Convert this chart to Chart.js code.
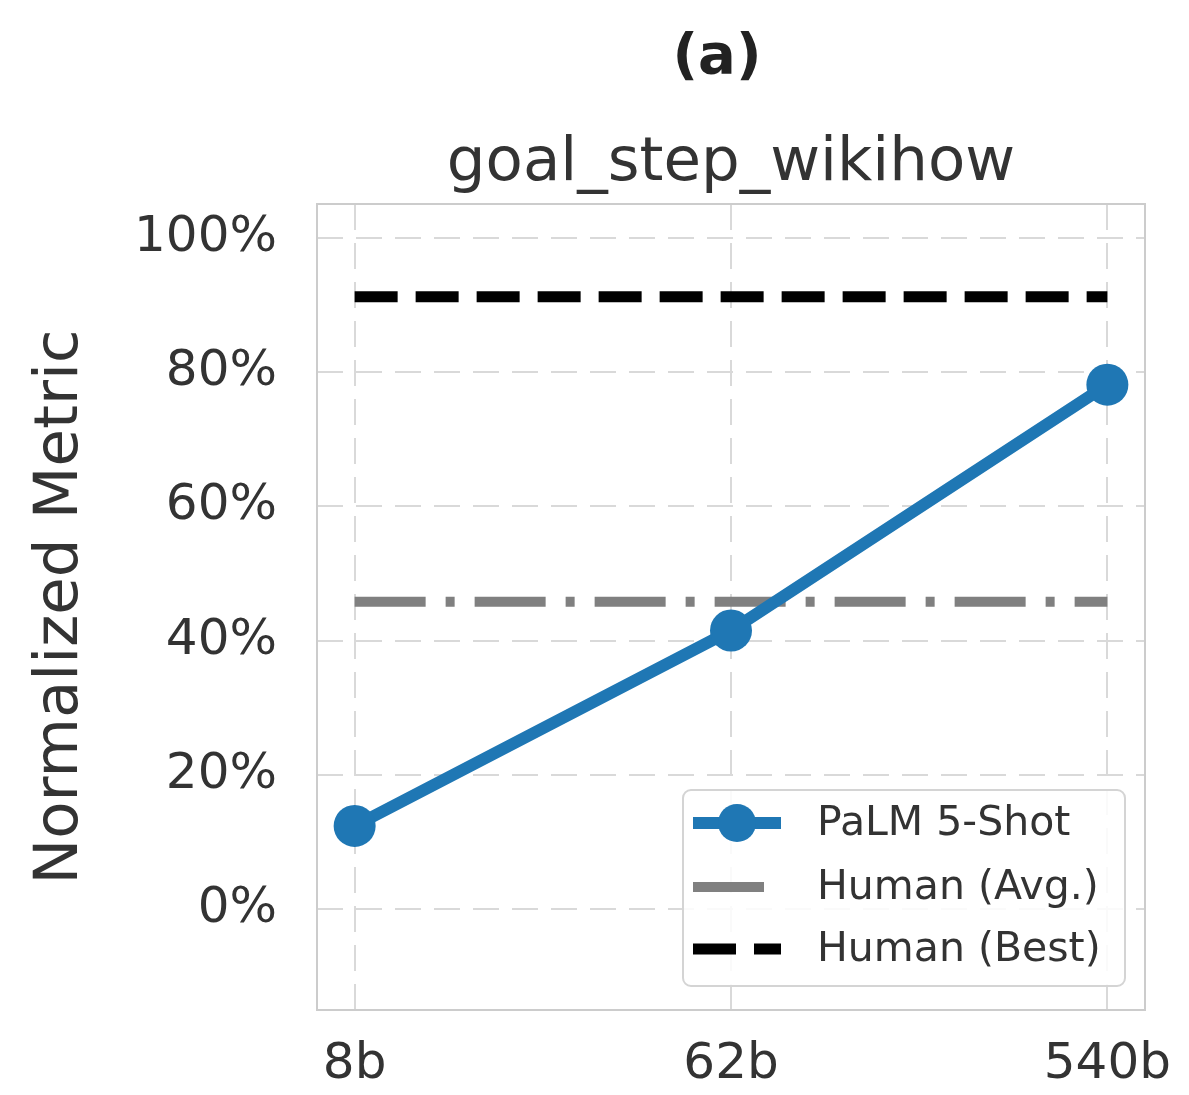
<!DOCTYPE html>
<html>
<head>
<meta charset="utf-8">
<script src="https://cdn.jsdelivr.net/npm/chart.js@4/dist/chart.umd.min.js"></script>
<style>
  html, body { margin: 0; padding: 0; background: #ffffff; }
  canvas { display: block; }
</style>
</head>
<body>
<canvas id="chart" width="1189" height="1095"></canvas>
<script>
// Model sizes on the x axis and normalized scores (%)
const modelSizes = ['8b', '62b', '540b'];
const palm5Shot = [12.4, 41.5, 78.1];
const humanAvg = [45.8, 45.8];
const humanBest = [91.2, 91.2];
const yTickValues = [0, 20, 40, 60, 80, 100];

const panelLabel = '(a)';
const taskName = 'goal_step_wikihow';
const yAxisTitle = 'Normalized Metric';

const FONT = '"DejaVu Sans", "Liberation Sans", sans-serif';
const BLUE = '#1f77b4';
const GRAY = '#808080';
const TEXT = '#333333';

const lastIdx = modelSizes.length - 1;

// Titles, y-axis label and the outer frame
const decorations = {
  id: 'decorations',
  beforeDatasetsDraw(chart) {
    const { ctx, chartArea: a } = chart;
    ctx.save();
    ctx.strokeStyle = '#cccccc';
    ctx.lineWidth = 2;
    ctx.strokeRect(a.left, a.top, a.right - a.left, a.bottom - a.top);
    ctx.restore();
  },
  afterDraw(chart) {
    const { ctx, chartArea: a } = chart;
    ctx.save();
    ctx.fillStyle = '#222222';
    ctx.textAlign = 'center';
    ctx.textBaseline = 'alphabetic';
    ctx.font = 'bold 56px ' + FONT;
    ctx.fillText(panelLabel, 717, 73);
    ctx.fillStyle = TEXT;
    ctx.font = '61px ' + FONT;
    ctx.fillText(taskName, (a.left + a.right) / 2, 180);

    ctx.translate(77, (a.top + a.bottom) / 2);
    ctx.rotate(-Math.PI / 2);
    ctx.font = '61px ' + FONT;
    ctx.fillText(yAxisTitle, 0, 0);
    ctx.restore();
  }
};

// Legend box placed inside the lower-right corner of the plot
const insideLegend = {
  id: 'insideLegend',
  afterDatasetsDraw(chart) {
    const { ctx } = chart;
    const box = { x: 683, y: 790, w: 442, h: 196, r: 8 };
    ctx.save();
    ctx.beginPath();
    ctx.roundRect(box.x, box.y, box.w, box.h, box.r);
    ctx.fillStyle = 'rgba(255,255,255,0.85)';
    ctx.fill();
    ctx.strokeStyle = '#d4d4d4';
    ctx.lineWidth = 2;
    ctx.stroke();

    const rows = [823, 887, 949];
    const x0 = 693, x1 = 781;
    chart.data.datasets.forEach((ds, i) => {
      const y = rows[i];
      ctx.save();
      ctx.strokeStyle = ds.borderColor;
      ctx.lineWidth = ds.borderWidth;
      ctx.lineCap = 'butt';
      ctx.setLineDash(ds.borderDash || []);
      ctx.beginPath();
      ctx.moveTo(x0, y);
      ctx.lineTo(x1, y);
      ctx.stroke();
      if (ds.pointRadius > 0) {
        ctx.setLineDash([]);
        ctx.fillStyle = ds.pointBackgroundColor;
        ctx.beginPath();
        ctx.arc((x0 + x1) / 2, y, 19, 0, Math.PI * 2);
        ctx.fill();
      }
      ctx.restore();
      ctx.fillStyle = TEXT;
      ctx.font = '41px ' + FONT;
      ctx.textAlign = 'left';
      ctx.textBaseline = 'middle';
      ctx.fillText(ds.label, 817, y + 1);
    });
    ctx.restore();
  }
};

new Chart(document.getElementById('chart'), {
  type: 'line',
  data: {
    datasets: [
      {
        label: 'PaLM 5-Shot',
        data: palm5Shot.map((v, i) => ({ x: i, y: v })),
        borderColor: BLUE,
        backgroundColor: BLUE,
        borderWidth: 12,
        pointRadius: 21,
        pointHoverRadius: 21,
        pointBackgroundColor: BLUE,
        pointBorderWidth: 0,
        tension: 0
      },
      {
        label: 'Human (Avg.)',
        data: humanAvg.map((v, i) => ({ x: i * lastIdx, y: v })),
        borderColor: GRAY,
        borderWidth: 10,
        borderDash: [71, 20, 9, 20],
        borderCapStyle: 'butt',
        pointRadius: 0
      },
      {
        label: 'Human (Best)',
        data: humanBest.map((v, i) => ({ x: i * lastIdx, y: v })),
        borderColor: '#000000',
        borderWidth: 11,
        borderDash: [43, 18],
        borderCapStyle: 'butt',
        pointRadius: 0
      }
    ]
  },
  options: {
    responsive: false,
    devicePixelRatio: 1,
    animation: false,
    layout: { padding: { top: 204, right: 44, left: 0, bottom: 0 } },
    plugins: {
      legend: { display: false },
      tooltip: { enabled: false },
      title: { display: false }
    },
    scales: {
      x: {
        type: 'linear',
        min: -0.1,
        max: lastIdx + 0.1,
        afterBuildTicks: (s) => { s.ticks = modelSizes.map((_, i) => ({ value: i })); },
        afterFit: (s) => { s.height = 85; s.paddingLeft = 0; s.paddingRight = 0; },
        ticks: {
          callback: (v) => modelSizes[v],
          font: { family: FONT, size: 50 },
          color: TEXT,
          padding: 25,
          maxRotation: 0,
          autoSkip: false
        },
        grid: { color: '#d9d9d9', lineWidth: 2, drawTicks: false },
        border: { display: false, dash: [26, 13] }
      },
      y: {
        type: 'linear',
        min: -15,
        max: 105,
        afterBuildTicks: (s) => { s.ticks = yTickValues.map(v => ({ value: v })); },
        afterFit: (s) => { s.width = 317; s.paddingTop = 0; s.paddingBottom = 0; },
        ticks: {
          callback: (v) => v + '%',
          font: { family: FONT, size: 50 },
          color: TEXT,
          padding: 40
        },
        grid: { color: '#d9d9d9', lineWidth: 2, drawTicks: false },
        border: { display: false, dash: [26, 13] }
      }
    }
  },
  plugins: [decorations, insideLegend]
});
</script>
</body>
</html>
